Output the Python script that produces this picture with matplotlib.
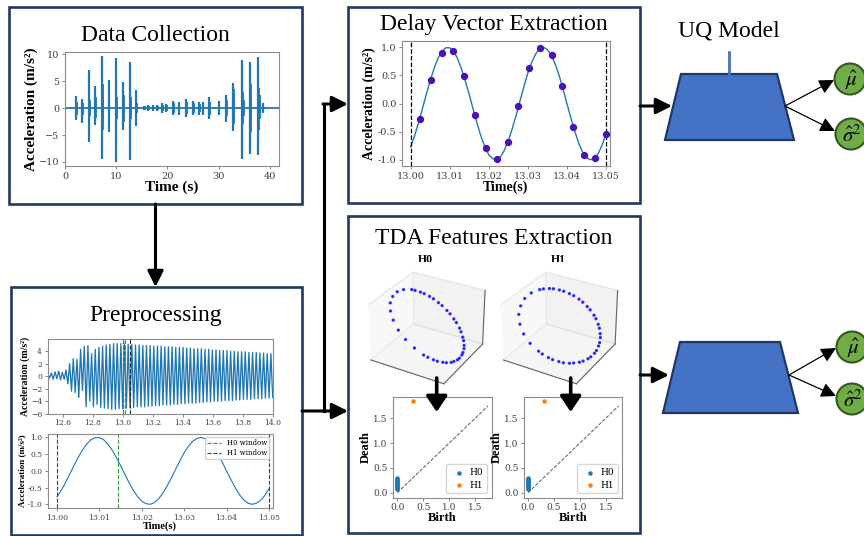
import numpy as np
import matplotlib.pyplot as plt
from matplotlib.patches import Rectangle, Polygon, Circle
from matplotlib.ticker import FormatStrFormatter

plt.rcParams['font.family'] = 'DejaVu Serif'
plt.rcParams['mathtext.fontset'] = 'stix'

# ---------------- data ----------------
# raw record: main impact spikes (time, positive peak, negative peak)
dc_time = [2.2, 3.4, 4.6, 5.9, 7.2, 8.5, 9.9, 11.3, 12.6, 13.8, 15.4, 16.2, 17.1, 18.0,
           19.0, 19.8, 21.1, 22.2, 23.6, 25.0, 26.2, 26.9, 28.2, 30.0, 31.4, 32.8,
           34.5, 36.1, 37.7, 38.6]
dc_top = [2.3, 1.7, 7.0, 4.1, 9.6, 5.2, 9.2, 4.8, 8.6, 3.3, 0.4, 0.5, 0.5, 0.6,
          0.9, 0.7, 1.3, 1.2, 1.6, 1.3, 1.2, 1.2, 2.0, 1.4, 2.5, 4.6,
          9.0, 8.6, 9.4, 1.0]
dc_bot = [-2.2, -2.7, -6.3, -3.2, -9.5, -4.5, -10.0, -4.0, -9.6, -3.3, -0.4, -0.5, -0.5, -0.6,
          -0.9, -0.7, -1.3, -1.2, -1.6, -1.3, -1.2, -1.2, -2.1, -1.3, -2.5, -4.3,
          -9.5, -8.5, -8.8, -1.0]
# ringing after each impact
ring_time = [2.35, 3.55, 4.75, 4.9, 6.05, 7.35, 7.5, 8.65, 10.05, 10.2, 11.45, 12.75,
             12.9, 13.95, 14.15, 15.55, 16.35, 17.25, 18.15, 19.15, 19.95, 21.25, 22.35,
             23.75, 25.15, 26.35, 27.05, 28.35, 30.15, 31.55, 32.95, 33.1, 34.65, 34.8,
             34.95, 36.25, 36.4, 37.85, 38.0, 38.15]
ring_top = [1.2, 1.0, 4.2, 1.5, 2.0, 4.5, 2.0, 2.5, 4.5, 2.0, 2.5, 5.0,
            2.0, 2.0, 1.0, 0.3, 0.3, 0.3, 0.4, 0.6, 0.5, 0.9, 0.8,
            1.1, 0.9, 0.8, 0.8, 1.2, 0.9, 1.5, 3.5, 1.5, 6.4, 3.0,
            1.5, 4.5, 2.0, 3.8, 2.5, 1.0]
ring_bot = [-1.2, -1.2, -3.0, -1.5, -1.8, -4.0, -2.0, -2.2, -5.0, -2.0, -2.5, -4.5,
            -2.0, -2.0, -1.0, -0.3, -0.3, -0.3, -0.4, -0.6, -0.5, -0.9, -0.8,
            -1.1, -0.9, -0.8, -0.8, -1.3, -0.9, -1.5, -3.0, -1.5, -5.5, -3.0,
            -1.5, -4.5, -2.0, -4.0, -2.0, -1.0]
record_span = [0.0, 41.8]

# zoomed record 12.5 - 14.0 s: successive peaks and troughs
prep_peaks = [0.3, 0.5, 0.7, 0.8, 0.6, 1.0, 2.0, 2.8, 2.7, 4.3, 4.8, 4.9, 3.6, 4.3, 4.6, 4.8,
              5.0, 5.1, 5.2, 5.2, 5.2, 5.2, 5.1, 5.1, 5.0, 5.0, 4.9, 4.9, 4.9, 4.8, 4.8,
              4.8, 4.7, 4.7, 4.7, 4.6, 4.6, 4.6, 4.5, 4.5, 4.4, 4.4, 4.4, 4.3, 4.3, 4.2,
              4.2, 4.1, 4.1, 4.1, 4.0, 4.0, 3.9, 3.9, 3.9, 3.8, 3.8, 3.8, 3.7, 3.7, 3.6, 3.6]
prep_troughs = [-0.3, -0.5, -0.4, -0.6, -0.5, -1.2, -2.4, -2.6, -3.4, -2.3, -4.9, -4.0, -4.9,
                -4.5, -5.0, -5.1, -5.2, -5.3, -5.3, -5.2, -5.2, -5.1, -5.0, -5.0, -4.9, -4.9,
                -4.9, -4.8, -4.8, -4.7, -4.7, -4.6, -4.6, -4.6, -4.5, -4.5, -4.4, -4.4, -4.3,
                -4.3, -4.3, -4.2, -4.2, -4.1, -4.1, -4.0, -4.0, -4.0, -3.9, -3.9, -3.9, -3.8,
                -3.8, -3.7, -3.7, -3.7, -3.6, -3.6, -3.6, -3.5, -3.5, -3.4]
prep_span = [12.5, 14.0]

# normalised window 13.00 - 13.05 s, one value per ms
win_span = [13.00, 13.05]
win_curve = [-0.77, -0.58, -0.35, -0.10, 0.16, 0.40, 0.62, 0.80, 0.93, 0.99, 0.99,
             0.93, 0.80, 0.62, 0.40, 0.16, -0.10, -0.35, -0.58, -0.77, -0.91, -0.98,
             -1.00, -0.95, -0.83, -0.66, -0.45, -0.21, 0.05, 0.30, 0.54, 0.73, 0.88,
             0.97, 1.00, 0.96, 0.86, 0.70, 0.50, 0.26, 0.00, -0.25, -0.49, -0.70, -0.86,
             -0.96, -1.00, -0.97, -0.89, -0.74, -0.54]
delay_t = [13.0025, 13.0052, 13.0081, 13.0109, 13.0137, 13.0165, 13.0193, 13.0221, 13.0249,
           13.0276, 13.0304, 13.0332, 13.0361, 13.0388, 13.0416, 13.0444, 13.0472, 13.0500]
delay_v = [-0.28, 0.42, 0.90, 0.93, 0.49, -0.20, -0.79, -0.99, -0.69,
           -0.04, 0.63, 0.99, 0.86, 0.31, -0.41, -0.91, -0.97, -0.54]
h0_window = [13.00, 13.0145]
h1_window = [13.00, 13.05]

# persistence diagrams
pd_h0_death = [0.08, 0.10, 0.12, 0.14, 0.16, 0.18, 0.20, 0.22, 0.24, 0.26, 0.28, 0.30]
pd_h1_birth = [0.30]
pd_h1_death = [1.85]
diag_max = 1.75

# ---------------- figure / layout helpers ----------------
W, H = 864, 536
NAVY = '#1F3864'
fig = plt.figure(figsize=(W / 100, H / 100), dpi=100)


def px_axes(x0, y0, x1, y1, **kw):
    return fig.add_axes([x0 / W, 1 - y1 / H, (x1 - x0) / W, (y1 - y0) / H], **kw)


def canvas(**kw):
    a = px_axes(0, 0, W, H, **kw)
    a.set_xlim(0, W); a.set_ylim(H, 0); a.axis('off')
    return a


def style(ax, size):
    for s in ax.spines.values():
        s.set_color('0.55'); s.set_linewidth(0.8)
    ax.tick_params(labelsize=size, color='0.45', labelcolor='0.25', length=2.5, width=0.6, pad=1.5)


def lab(size):
    return dict(family='Liberation Serif', weight='bold', size=size)


def arrow(ax, start, end, lw=2.2, hl=0.6, hw=0.3, ms=16):
    ax.annotate('', xy=end, xytext=start,
                arrowprops=dict(arrowstyle=f'-|>,head_length={hl},head_width={hw}', lw=lw,
                                color='black', shrinkA=0, shrinkB=0, mutation_scale=ms))


bg = canvas()

panels = [('Data Collection', (9, 7, 302, 204), 41),
          ('Preprocessing', (10.5, 287, 301.5, 534.5), 321),
          ('Delay Vector Extraction', (348, 7, 640, 203), 30),
          ('TDA Features Extraction', (348, 216, 640, 533), 244)]
for title, (x0, y0, x1, y1), base in panels:
    bg.add_patch(Rectangle((x0, y0), x1 - x0, y1 - y0, fc='white', ec=NAVY, lw=1.9))
    bg.text((x0 + x1) / 2, base, title, ha='center', va='baseline', fontsize=17,
            family='Liberation Serif')

# connectors
arrow(bg, (155.5, 204), (155.5, 287))
arrow(bg, (302, 411), (348, 411))
bg.plot([324, 324], [411, 104], color='black', lw=2.2, solid_capstyle='projecting')
arrow(bg, (323, 104), (348, 104))
arrow(bg, (640, 106), (672, 106))
arrow(bg, (640, 375), (669, 375))

# UQ models
bg.text(729, 36, 'UQ Model', ha='center', va='baseline', fontsize=17, family='Liberation Serif')
bg.plot([729, 729], [52, 74], color='#4472C4', lw=2)
uq = [((681, 74), (777, 74), (794, 140), (665, 140), (785, 106), (850, 79), (851, 134)),
      ((680, 342), (780, 342), (798, 413), (663, 413), (789, 375), (852, 347), (852, 399))]
for tl, tr, br, bl, out, mu_c, sg_c in uq:
    bg.add_patch(Polygon([tl, tr, br, bl], closed=True, fc='#4472C4', ec=NAVY, lw=1.6))
    for c, txt in ((mu_c, r'$\hat{\mu}$'), (sg_c, r'$\hat{\sigma}^2$')):
        bg.add_patch(Circle(c, 15.5, fc='#70AD47', ec='#375623', lw=1.5))
        bg.text(c[0] + 1, c[1] + 1, txt, ha='center', va='center', fontsize=15)
        arrow(bg, out, (c[0] - 16, c[1] + (1 if c[1] < out[1] else -3)), lw=0.9, ms=15)

# ---------------- Data Collection ----------------
ax = px_axes(65, 52, 279, 166)
ax.plot(record_span, [0, 0], color='#1f77b4', lw=1.3)
ax.vlines(dc_time, dc_bot, dc_top, color='#1f77b4', lw=1.6)
ax.vlines(ring_time, ring_bot, ring_top, color='#1f77b4', lw=1.3)
ax.set_xlim(0, 41.8); ax.set_ylim(-10.75, 10.4)
ax.set_xticks([0, 10, 20, 30, 40]); ax.set_yticks([-10, -5, 0, 5, 10])
style(ax, 7)
ax.set_xlabel('Time (s)', labelpad=0, **lab(11))
ax.set_ylabel('Acceleration (m/s²)', labelpad=1, **lab(11))

# ---------------- Preprocessing ----------------
ax = px_axes(47.7, 339, 272.7, 413.7)
zig = np.ravel(np.column_stack([prep_peaks, prep_troughs]))
ax.plot(np.linspace(prep_span[0], prep_span[1], len(zig)), zig, color='#1f77b4', lw=0.95)
for x in h1_window:
    ax.axvline(x, color='0.15', ls='--', lw=0.8)
for x in h0_window:
    ax.axvline(x, color='#2ca02c', ls='--', lw=0.8)
ax.set_xlim(*prep_span); ax.set_ylim(-6, 5.95)
ax.set_xticks(np.arange(12.6, 14.01, 0.2)); ax.set_yticks([-6, -4, -2, 0, 2, 4])
ax.xaxis.set_major_formatter(FormatStrFormatter('%.1f'))
style(ax, 5.5)
ax.set_ylabel('Acceleration (m/s²)', labelpad=1, **lab(7))

ax = px_axes(47.7, 433.7, 272.7, 508)
win_t = np.linspace(win_span[0], win_span[1], len(win_curve))
ax.plot(win_t, win_curve, color='#1f77b4', lw=0.8)
ax.axvline(h0_window[1], color='#2ca02c', ls='--', lw=0.8, label='H0 window')
ax.axvline(h1_window[0], color='0.25', ls='--', lw=0.8, label='H1 window')
ax.axvline(h1_window[1], color='0.25', ls='--', lw=0.8)
ax.set_xlim(12.9978, 13.0509); ax.set_ylim(-1.11, 1.11)
ax.set_xticks(np.arange(13.0, 13.051, 0.01)); ax.set_yticks([-1, -0.5, 0, 0.5, 1])
ax.xaxis.set_major_formatter(FormatStrFormatter('%.2f'))
ax.yaxis.set_major_formatter(FormatStrFormatter('%.1f'))
style(ax, 5.5)
ax.legend(loc='upper right', fontsize=5, handlelength=2, borderpad=0.3, labelspacing=0.3,
          framealpha=0.9)
ax.set_xlabel('Time(s)', labelpad=0, **lab(7.5))
ax.set_ylabel('Acceleration (m/s²)', labelpad=1, **lab(6.5))

# ---------------- Delay Vector Extraction ----------------
ax = px_axes(402, 41, 609.5, 166)
ax.plot(win_t, win_curve, color='#1f77b4', lw=1.0)
ax.scatter(delay_t, delay_v, s=18, color='#4b10b8', zorder=3)
for x in h1_window:
    ax.axvline(x, color='black', ls='--', lw=0.9)
ax.set_xlim(12.9978, 13.0509); ax.set_ylim(-1.11, 1.11)
ax.set_xticks(np.arange(13.0, 13.051, 0.01)); ax.set_yticks([-1, -0.5, 0, 0.5, 1])
ax.xaxis.set_major_formatter(FormatStrFormatter('%.2f'))
ax.yaxis.set_major_formatter(FormatStrFormatter('%.1f'))
style(ax, 7)
ax.set_xlabel('Time(s)', labelpad=0, **lab(10))
ax.set_ylabel('Acceleration (m/s²)', labelpad=1, **lab(10))

# ---------------- TDA features ----------------
wc = np.array(win_curve)
for name, lag, (x0, x1), (px0, px1), cx in (('H0', 6, (352, 500), (393.3, 491.7), 425),
                                           ('H1', 5, (484, 633), (524, 622.3), 558)):
    a3 = px_axes(x0, 262, x1, 392, projection='3d')
    n = len(wc) - 2 * lag
    a3.scatter(wc[:n], wc[lag:lag + n], wc[2 * lag:], s=2, c='blue', alpha=0.7)
    a3.set_xticks([]); a3.set_yticks([]); a3.set_zticks([])
    a3.grid(False)
    for axis in (a3.xaxis, a3.yaxis, a3.zaxis):
        axis.line.set_color('0.4'); axis.line.set_linewidth(0.8)
        axis.pane.set_edgecolor('0.85')
    bg.text(cx, 260, name, ha='center', va='center', **lab(8.5))

    ax = px_axes(px0, 396.7, px1, 497.7)
    ax.plot([0, diag_max], [0, diag_max], color='0.35', ls='--', lw=0.7)
    ax.scatter(np.zeros(len(pd_h0_death)), pd_h0_death, s=5, color='#1f77b4', label='H0')
    ax.scatter(pd_h1_birth, pd_h1_death, s=5, color='#ff7f0e', label='H1')
    ax.set_xlim(-0.077, 1.82); ax.set_ylim(-0.10, 1.935)
    ax.set_xticks([0, 0.5, 1, 1.5]); ax.set_yticks([0, 0.5, 1, 1.5])
    ax.xaxis.set_major_formatter(FormatStrFormatter('%.1f'))
    ax.yaxis.set_major_formatter(FormatStrFormatter('%.1f'))
    style(ax, 6.5)
    ax.legend(loc='lower right', fontsize=6.5, handletextpad=0.2, borderpad=0.4,
              labelspacing=0.4, markerscale=1.0)
    ax.set_xlabel('Birth', labelpad=0, **lab(9))
    ax.set_ylabel('Death', labelpad=1, **lab(9))

top = canvas(zorder=10)
arrow(top, (436.7, 378), (436.7, 412), lw=2.6, hw=0.4)
arrow(top, (570.7, 378), (570.7, 412), lw=2.6, hw=0.4)

fig.savefig('out.png', dpi=100)
